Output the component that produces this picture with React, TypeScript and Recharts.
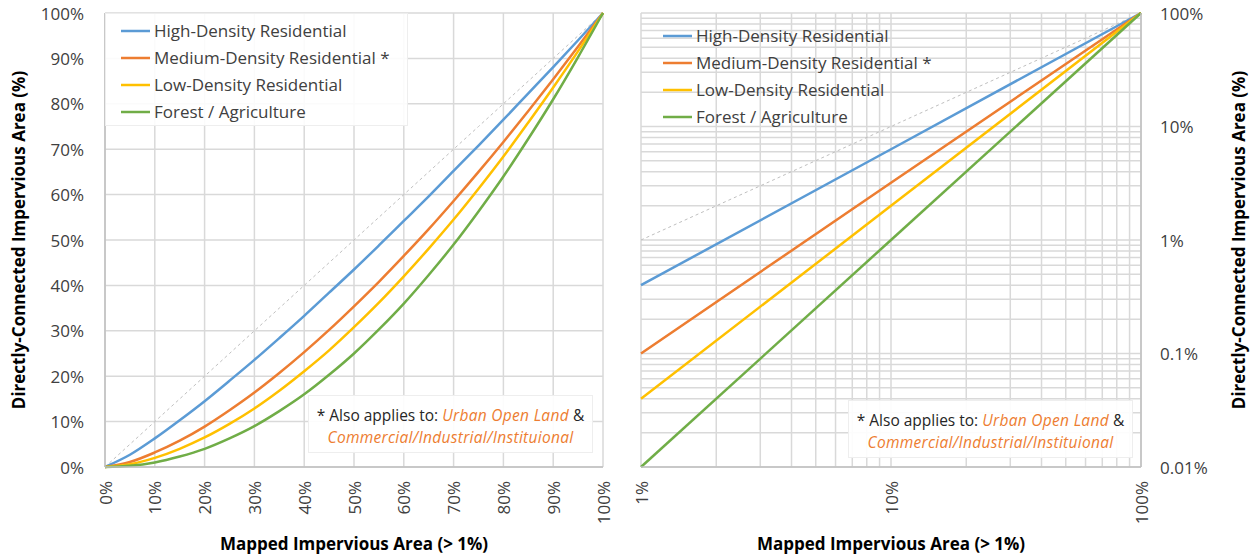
import React from 'react';
import { LineChart, Line, XAxis, YAxis, CartesianGrid, Legend } from 'recharts';

// ---------- Data ----------
// Left chart: linear axes, Mapped Impervious Area (%) vs DCIA (%)
const linX = [0, 5, 10, 15, 20, 25, 30, 35, 40, 45, 50, 55, 60, 65, 70, 75, 80, 85, 90, 95, 100];
const linHD = [0, 2.7, 6.3, 10.3, 14.5, 19.0, 23.6, 28.4, 33.3, 38.4, 43.5, 48.8, 54.2, 59.6, 65.2, 70.8, 76.5, 82.3, 88.1, 94.0, 100];
const linMD = [0, 1.1, 3.2, 5.8, 8.9, 12.5, 16.4, 20.7, 25.3, 30.2, 35.4, 40.8, 46.5, 52.4, 58.6, 65.0, 71.6, 78.4, 85.4, 92.6, 100];
const linLD = [0, 0.6, 2.0, 4.0, 6.5, 9.5, 12.9, 16.8, 21.1, 25.7, 30.8, 36.2, 42.0, 48.1, 54.5, 61.3, 68.4, 75.9, 83.6, 91.6, 100];
const linFA = [0, 0.25, 1.0, 2.3, 4.0, 6.3, 9.0, 12.3, 16.0, 20.3, 25.0, 30.3, 36.0, 42.3, 49.0, 56.3, 64.0, 72.3, 81.0, 90.3, 100];
const linRef = [0, 5, 10, 15, 20, 25, 30, 35, 40, 45, 50, 55, 60, 65, 70, 75, 80, 85, 90, 95, 100];
const linTicks = [0, 10, 20, 30, 40, 50, 60, 70, 80, 90, 100];

// Right chart: log-log axes
const logX = [1, 10, 100];
const logHD = [0.4, 6.3, 100];
const logMD = [0.1, 3.2, 100];
const logLD = [0.04, 2.0, 100];
const logFA = [0.01, 1.0, 100];
const logRef = [1, 10, 100];
const logXTicks = [1, 2, 3, 4, 5, 6, 7, 8, 9, 10, 20, 30, 40, 50, 60, 70, 80, 90, 100];
const logXLabels = [1, 10, 100];
const logYTicks = [
  0.01, 0.02, 0.03, 0.04, 0.05, 0.06, 0.07, 0.08, 0.09,
  0.1, 0.2, 0.3, 0.4, 0.5, 0.6, 0.7, 0.8, 0.9,
  1, 2, 3, 4, 5, 6, 7, 8, 9,
  10, 20, 30, 40, 50, 60, 70, 80, 90, 100,
];
const logYLabels = [0.01, 0.1, 1, 10, 100];

const seriesKeys = ['hd', 'md', 'ld', 'fa'];
const seriesNames = ['High-Density Residential', 'Medium-Density Residential *', 'Low-Density Residential', 'Forest / Agriculture'];
const seriesColors = ['#5B9BD5', '#ED7D31', '#FFC000', '#70AD47'];

const xTitle = 'Mapped Impervious Area (> 1%)';
const yTitle = 'Directly-Connected Impervious Area (%)';

const linData = linX.map((x, i) => ({ x, hd: linHD[i], md: linMD[i], ld: linLD[i], fa: linFA[i], ref: linRef[i] }));
const logData = logX.map((x, i) => ({ x, hd: logHD[i], md: logMD[i], ld: logLD[i], fa: logFA[i], ref: logRef[i] }));

// ---------- Styles ----------
const FONT = "'Open Sans', sans-serif";
const TICK_COLOR = '#404040';
const GRID = '#d9d9d9';
const AXIS = '#bfbfbf';

const fmtPct = (v: number) => `${v}%`;

const makeYTick = (anchor: 'start' | 'end', labels?: number[]) => (props: any) => {
  const { x, y, payload } = props;
  const v = payload.value;
  if (labels && !labels.includes(v)) return <g />;
  return (
    <text x={x} y={y} textAnchor={anchor} dominantBaseline="central" fontSize={17} fill={TICK_COLOR} fontFamily={FONT}>
      {fmtPct(v)}
    </text>
  );
};

const makeXTick = (labels?: number[]) => (props: any) => {
  const { x, y, payload } = props;
  const v = payload.value;
  if (labels && !labels.includes(v)) return <g />;
  return (
    <text
      x={x}
      y={y}
      transform={`rotate(-90, ${x}, ${y})`}
      textAnchor="end"
      dominantBaseline="central"
      fontSize={17}
      fill={TICK_COLOR}
      fontFamily={FONT}
    >
      {fmtPct(v)}
    </text>
  );
};

const xTitleContent = (props: any) => {
  const vb = props.viewBox || {};
  const cx = vb.x + vb.width / 2;
  return (
    <text x={cx} y={543} textAnchor="middle" dominantBaseline="central" fontSize={17} fontWeight={700} fill="#000" fontFamily={FONT}>
      {xTitle}
    </text>
  );
};

const makeYTitle = (tx: number) => (props: any) => {
  const cy = 240;
  return (
    <text
      x={tx}
      y={cy}
      transform={`rotate(-90, ${tx}, ${cy})`}
      textAnchor="middle"
      dominantBaseline="central"
      fontSize={17}
      fontWeight={700}
      fill="#000"
      fontFamily={FONT}
    >
      {yTitle}
    </text>
  );
};

const makeLegend = (bg: string, border: string, padLeft: number, padTop: number) => (props: any) => {
  const payload = (props.payload || [])
    .filter((p: any) => p.type !== 'none' && seriesNames.includes(p.value))
    .slice()
    .sort((a: any, b: any) => seriesNames.indexOf(a.value) - seriesNames.indexOf(b.value));
  return (
    <div
      style={{
        background: bg,
        border,
        boxSizing: 'border-box',
        width: '100%',
        height: '100%',
        paddingLeft: padLeft,
        paddingTop: padTop,
        fontFamily: FONT,
        fontSize: 17,
        color: TICK_COLOR,
      }}
    >
      {payload.map((p: any, i: number) => (
        <div key={i} style={{ display: 'flex', alignItems: 'center', height: 27, whiteSpace: 'nowrap' }}>
          <svg width={29} height={4} style={{ display: 'block' }}>
            <line x1={0} y1={2} x2={29} y2={2} stroke={p.color} strokeWidth={2.5} />
          </svg>
          <span style={{ marginLeft: 4, lineHeight: '27px' }}>{p.value}</span>
        </div>
      ))}
    </div>
  );
};

const italicStyle: React.CSSProperties = { color: '#ED7D31', fontStyle: 'italic', letterSpacing: 0.3 };

const Note = ({ left, top }: { left: number; top: number }) => (
  <div
    style={{
      position: 'absolute',
      left,
      top,
      width: 285,
      height: 58,
      boxSizing: 'border-box',
      background: 'rgba(255,255,255,0.92)',
      border: '1px solid #eeeeee',
      fontFamily: FONT,
      fontSize: 15.5,
      lineHeight: '22px',
      textAlign: 'center',
      paddingTop: 8,
      color: '#262626',
      whiteSpace: 'nowrap',
    }}
  >
    <div>
      * Also applies to: <span style={italicStyle}>Urban Open Land</span> &amp;
    </div>
    <div style={italicStyle}>Commercial/Industrial/Instituional</div>
  </div>
);

const renderSeries = (curve: 'monotone' | 'linear') => [
  <Line
    key="ref"
    dataKey="ref"
    type="linear"
    stroke="#bfbfbf"
    strokeWidth={1}
    strokeDasharray="3 3"
    dot={false}
    activeDot={false}
    legendType="none"
    isAnimationActive={false}
  />,
  ...seriesKeys.map((k, i) => (
    <Line
      key={k}
      dataKey={k}
      name={seriesNames[i]}
      type={curve}
      stroke={seriesColors[i]}
      strokeWidth={2.5}
      dot={false}
      activeDot={false}
      isAnimationActive={false}
    />
  )),
];

export default function App() {
  return (
    <div style={{ position: 'absolute', left: 0, top: 0, width: 1255, height: 558, background: '#fff', overflow: 'hidden' }}>
      <div style={{ position: 'absolute', left: 0, top: 0 }}>
        <LineChart width={620} height={558} data={linData} margin={{ top: 13, right: 17, left: 15, bottom: 6 }}>
          <CartesianGrid stroke={GRID} strokeWidth={1.5} />
          <XAxis
            dataKey="x"
            type="number"
            domain={[0, 100]}
            ticks={linTicks}
            interval={0}
            height={85}
            tickSize={0}
            tickMargin={14}
            tickLine={false}
            axisLine={{ stroke: AXIS, strokeWidth: 1.5 }}
            tick={makeXTick()}
            label={{ content: xTitleContent }}
          />
          <YAxis
            type="number"
            domain={[0, 100]}
            ticks={linTicks}
            interval={0}
            width={90}
            tickSize={0}
            tickMargin={21}
            tickLine={false}
            axisLine={{ stroke: AXIS, strokeWidth: 1.5 }}
            tick={makeYTick('end')}
            label={{ content: makeYTitle(18) }}
          />
          {renderSeries('monotone')}
          <Legend
            layout="vertical"
            align="center"
            verticalAlign="middle"
            wrapperStyle={{ left: 105, top: 13, width: 303, height: 113 }}
            content={makeLegend('rgba(255,255,255,0.88)', '1px solid #eeeeee', 15, 3)}
          />
        </LineChart>
      </div>
      <div style={{ position: 'absolute', left: 620, top: 0 }}>
        <LineChart width={635} height={558} data={logData} margin={{ top: 13, right: 34, left: 21, bottom: 6 }}>
          <CartesianGrid stroke={GRID} strokeWidth={1.5} />
          <XAxis
            dataKey="x"
            type="number"
            scale="log"
            domain={[1, 100]}
            ticks={logXTicks}
            interval={0}
            height={85}
            tickSize={0}
            tickMargin={14}
            tickLine={false}
            axisLine={{ stroke: AXIS, strokeWidth: 1.5 }}
            tick={makeXTick(logXLabels)}
            label={{ content: xTitleContent }}
          />
          <YAxis
            type="number"
            scale="log"
            orientation="right"
            domain={[0.01, 100]}
            ticks={logYTicks}
            interval={0}
            width={80}
            tickSize={0}
            tickMargin={19}
            tickLine={false}
            axisLine={{ stroke: AXIS, strokeWidth: 1.5 }}
            tick={makeYTick('start', logYLabels)}
            label={{ content: makeYTitle(618) }}
          />
          {renderSeries('linear')}
          <Legend
            layout="vertical"
            align="center"
            verticalAlign="middle"
            wrapperStyle={{ left: 21, top: 13, width: 300, height: 120 }}
            content={makeLegend('transparent', 'none', 22, 9)}
          />
        </LineChart>
      </div>
      <Note left={308} top={395} />
      <Note left={848} top={400} />
    </div>
  );
}
